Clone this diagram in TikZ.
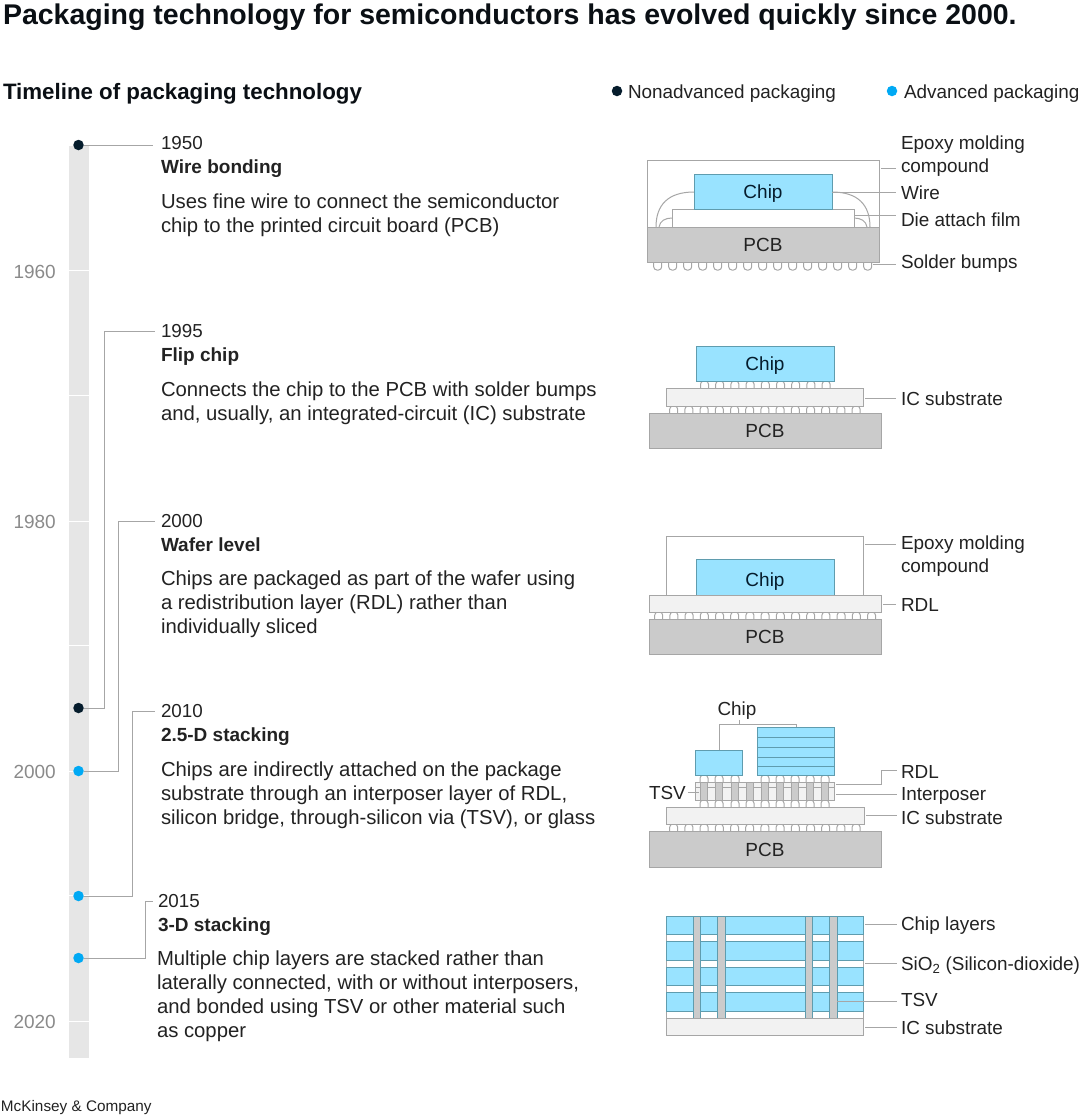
\documentclass[tikz,border=0pt]{standalone}
\usepackage{fontspec}
\setmainfont{Liberation Sans}
\definecolor{navy}{HTML}{051C2C}
\definecolor{head}{HTML}{0A0F14}
\definecolor{sky}{HTML}{00A9F4}
\definecolor{chipfill}{HTML}{99E3FF}
\definecolor{chipedge}{HTML}{5F9CAE}
\definecolor{pcbfill}{HTML}{CBCBCB}
\definecolor{subfill}{HTML}{F2F2F2}
\definecolor{edge}{HTML}{A6A6A6}
\definecolor{bar}{HTML}{E6E6E6}
\definecolor{txt}{HTML}{222222}
\definecolor{yeartxt}{HTML}{8A8A8A}
\tikzset{
  x=1pt,y=-1pt,
  txtbase/.style={inner sep=0pt,outer sep=0pt,text=txt},
  lab/.style={txtbase,anchor=west,yshift=-0.5pt,font=\fontsize{18.9}{23}\selectfont,align=left},
  year/.style={txtbase,anchor=west,yshift=-0.5pt,font=\fontsize{18.8}{24}\selectfont},
  ttl/.style={txtbase,anchor=west,yshift=-2.5pt,font=\fontsize{19}{24}\selectfont\bfseries},
  desc/.style={txtbase,anchor=north west,font=\fontsize{20.3}{24}\selectfont,align=left},
  tickyear/.style={inner sep=0pt,anchor=east,yshift=-1pt,text=yeartxt,font=\fontsize{19}{24}\selectfont},
  conn/.style={draw=edge,line width=1pt},
  leader/.style={draw=edge,line width=1pt},
  dotnode/.style={circle,inner sep=0pt,minimum size=10.5pt,fill=#1},
  pk/.style={inner sep=0pt,outer sep=0pt,line width=1pt,font=\fontsize{19}{24}\selectfont,text height=14pt,text depth=0pt},
  chip/.style={pk,draw=chipedge,fill=chipfill,text=navy},
  pcb/.style={pk,draw=edge,fill=pcbfill,text=txt},
  sub/.style={pk,draw=edge,fill=subfill},
  mold/.style={pk,draw=edge,fill=white},
  tsvcol/.style={pk,draw=chipedge,fill=pcbfill},
  bumpline/.style={draw=edge,line width=1pt,fill=white},
  wireline/.style={draw=edge,line width=1pt},
}
% \bx{name}{style}{x1}{y1}{x2}{y2}{text}
\newcommand{\bx}[7]{\pgfmathsetmacro{\bw}{#5-#3}\pgfmathsetmacro{\bh}{#6-#4}%
  \node[#2,minimum width=\bw pt,minimum height=\bh pt] (#1) at ({(#3+#5)/2},{(#4+#6)/2}) {#7};}
\newcommand{\lft}[1]{#1\hspace{4pt}}
% bump with flat end at y=#2, rounded end at y=#3
\newcommand{\bumpy}[3]{\draw[bumpline,rounded corners=3.2pt] ({#1-4},#2) -- ({#1-4},#3) -- ({#1+4},#3) -- ({#1+4},#2);}
\begin{document}
\begin{tikzpicture}
\useasboundingbox (0,0) rectangle (1080,1117);
% headings
\node[txtbase,anchor=west,yshift=-2pt,font=\fontsize{28.5}{32}\selectfont\bfseries,text=head] (title) at (3,15) {Packaging technology for semiconductors has evolved quickly since 2000.};
\node[txtbase,anchor=west,yshift=-2.5pt,font=\fontsize{22.3}{26}\selectfont\bfseries,text=head] (sub) at (3,91) {Timeline of packaging technology};
\node[dotnode=navy] (legA) at (617,91) {};
\node[lab] (legAt) at (628,93) {Nonadvanced packaging};
\node[dotnode=sky] (legB) at (892,91) {};
\node[lab] (legBt) at (904,93) {Advanced packaging};
% timeline
\node[inner sep=0pt,fill=bar,minimum width=20pt,minimum height=912pt] (tbar) at (79,602) {};
\foreach \yy in {270,395,521,645,771,895,1021}{\draw[white,line width=1pt] (69,\yy) -- (89,\yy);}
\node[tickyear] (t60) at (56,271) {1960};
\node[tickyear] (t80) at (56,521) {1980};
\node[tickyear] (t00) at (56,771) {2000};
\node[tickyear] (t20) at (56,1021) {2020};
% year / title / description
\node[year] (y50) at (161,143) {1950};
\node[ttl] (n50) at (161,166) {Wire bonding};
\node[desc] (d50) at (161,194) {Uses fine wire to connect the semiconductor\\chip to the printed circuit board (PCB)};
\node[year] (y95) at (161,331) {1995};
\node[ttl] (n95) at (161,354) {Flip chip};
\node[desc] (d95) at (161,382) {Connects the chip to the PCB with solder bumps\\and, usually, an integrated-circuit (IC) substrate};
\node[year] (y00) at (161,521) {2000};
\node[ttl] (n00) at (161,542) {Wafer level};
\node[desc] (d00) at (161,571) {Chips are packaged as part of the wafer using\\a redistribution layer (RDL) rather than\\individually sliced};
\node[year] (y10) at (161,711) {2010};
\node[ttl] (n10) at (161,734) {2.5-D stacking};
\node[desc] (d10) at (161,762) {Chips are indirectly attached on the package\\substrate through an interposer layer of RDL,\\silicon bridge, through-silicon via (TSV), or glass};
\node[year] (y15) at (158,901) {2015};
\node[ttl] (n15) at (158,924) {3-D stacking};
\node[desc] (d15) at (157,951) {Multiple chip layers are stacked rather than\\laterally connected, with or without interposers,\\and bonded using TSV or other material such\\as copper};
% dots
\node[dotnode=navy] (p50) at (78.5,145) {};
\node[dotnode=navy] (p95) at (78.5,708) {};
\node[dotnode=sky] (p00) at (78.5,771) {};
\node[dotnode=sky] (p10) at (78.5,896) {};
\node[dotnode=sky] (p15) at (78.5,958) {};
% connectors
\coordinate (e50) at (153,145);
\coordinate (e95) at (104.5,331);
\coordinate (e00) at (118,521);
\coordinate (e10) at (132,711);
\coordinate (e15) at (145.5,901);
\draw[conn] (p50) -- (e50);
\draw[conn] (p95) -| (e95) -- ([xshift=-6pt]y95.west |- e95);
\draw[conn] (p00) -| (e00) -- ([xshift=-6pt]y00.west |- e00);
\draw[conn] (p10) -| (e10) -- ([xshift=-6pt]y10.west |- e10);
\draw[conn] (p15) -| (e15) -- ([xshift=-5pt]y15.west |- e15);

% ---- wire bonding
\bx{wbMold}{mold}{647}{160}{879}{262}{}
\draw[wireline] (694,192) .. controls (668,192) and (656,205) .. (656,227);
\draw[wireline] (672,218) .. controls (665,218) and (660,221) .. (659,227);
\draw[wireline] (832,192) .. controls (858,192) and (870,205) .. (870,227);
\draw[wireline] (854,218) .. controls (861,218) and (866,221) .. (867,227);
\foreach \i in {0,...,14}{\bumpy{657.7+15*\i}{262}{270}}
\bx{wbDie}{mold}{672}{209}{854}{227}{}
\bx{wbChip}{chip}{694}{174}{832}{209}{Chip}
\bx{wbPcb}{pcb}{647}{227}{879}{262}{PCB}
\node[lab] (wbL1) at (901,156) {Epoxy molding\\compound};
\node[lab] (wbL2) at (901,192) {Wire};
\node[lab] (wbL3) at (901,219) {Die attach film};
\node[lab] (wbL4) at (901,263) {Solder bumps};
\coordinate (wbE1) at (896,168);
\coordinate (wbE2) at (896,192);
\coordinate (wbE3) at (896,215);
\coordinate (wbE4) at (896,264);
\coordinate (wbS4) at (873,264);
\draw[leader] ([xshift=2pt]wbMold.east |- wbE1) -- (wbE1);
\draw[leader] (wbChip.east |- wbE2) -- (wbE2);
\draw[leader] (wbDie.east |- wbE3) -- (wbE3);
\draw[leader] (wbS4) -- (wbE4);

% ---- flip chip
\foreach \i in {0,...,8}{\bumpy{704.5+15.2*\i}{389}{381}}
\foreach \i in {0,...,12}{\bumpy{673.7+15.2*\i}{413}{406}}
\bx{fcChip}{chip}{696}{346}{834}{381}{\lft{Chip}}
\bx{fcSub}{sub}{666}{388.5}{863}{406}{}
\bx{fcPcb}{pcb}{649}{413}{881}{448}{\lft{PCB}}
\node[lab] (fcL) at (901,398) {IC substrate};
\draw[leader] ([xshift=2pt]fcSub.east |- fcL.west) -- ([xshift=-5pt]fcL.west);

% ---- wafer level
\bx{wlMold}{mold}{666}{536}{863}{595}{}
\foreach \i in {0,...,14}{\bumpy{658.7+15.2*\i}{620}{612}}
\bx{wlChip}{chip,text height=18pt}{696}{559}{834}{595}{\lft{Chip}}
\bx{wlRdl}{sub}{649}{595}{881}{612}{}
\bx{wlPcb}{pcb}{649}{619.5}{881}{654}{\lft{PCB}}
\node[lab] (wlL1) at (901,556) {Epoxy molding\\compound};
\node[lab] (wlL2) at (901,604) {RDL};
\coordinate (wlE1) at (896,544);
\draw[leader] ([xshift=2pt]wlMold.east |- wlE1) -- (wlE1);
\draw[leader] ([xshift=2pt]wlRdl.east |- wlL2.west) -- ([xshift=-5pt]wlL2.west);

% ---- 2.5-D
\foreach \x in {704,719,735,765,780,795,810,825}{\bumpy{\x}{782}{775}}
\foreach \x in {704,719,735,750,765,780,795,810,825}{\bumpy{\x}{807}{800}}
\foreach \i in {0,...,12}{\bumpy{673.7+15.2*\i}{831}{824}}
\bx{dsChipA}{chip}{695}{750}{742}{775}{}
\bx{dsChipB}{chip}{757}{727}{834}{775}{}
\foreach \yy in {737,747,757,766}{\draw[draw=chipedge,line width=1pt] (dsChipB.west |- 0,\yy) -- (dsChipB.east |- 0,\yy);}
\bx{dsInt}{sub}{695}{782}{834}{800}{}
\draw[draw=edge,line width=1pt] (dsInt.west |- 0,787) -- (dsInt.east |- 0,787);
\foreach \x in {704,719,735,750,765,780,795,810,825}{\draw[fill=pcbfill,draw=edge,line width=0.8pt] ({\x-3.7},782) rectangle ({\x+3.7},800);}
\bx{dsSub}{sub}{666}{807}{864}{824}{}
\bx{dsPcb}{pcb}{649}{831}{881}{867}{\lft{PCB}}
\node[lab,anchor=center] (dsChipL) at (737,710) {Chip};
\coordinate (dsTop) at (739,724);
\coordinate (dsTick) at (739,720);
\coordinate (dsA) at (719,724);
\coordinate (dsB) at (796,724);
\draw[leader] (719,750) -- (dsA) -- (dsB) -- (796,727);
\draw[leader] (dsTop) -- (dsTick);
\node[lab] (dsTsv) at (649,792) {TSV};
\coordinate (dsTsvE) at (699,792);
\draw[leader] ([xshift=2pt]dsTsv.east |- dsTsvE) -- (dsTsvE);
\node[lab] (dsL1) at (901,771) {RDL};
\node[lab] (dsL2) at (901,795) {Interposer};
\node[lab] (dsL3) at (901,817) {IC substrate};
\coordinate (dsE1) at (881,784);
\coordinate (dsE2) at (897,794);
\coordinate (dsE1b) at (897,770);
\draw[leader] ([xshift=2pt]dsInt.east |- dsE1) -- (dsE1) |- (dsE1b);
\draw[leader] ([xshift=2pt]dsInt.east |- dsE2) -- (dsE2);
\coordinate (dsE3) at (897,815);
\draw[leader] ([xshift=2pt]dsSub.east |- dsE3) -- (dsE3);

% ---- 3-D
\bx{tdA}{mold}{666}{916}{863}{1018}{}
\bx{tdC1}{chip}{666}{916}{863}{934}{}
\bx{tdC2}{chip}{666}{941}{863}{960}{}
\bx{tdC3}{chip}{666}{967}{863}{985}{}
\bx{tdC4}{chip}{666}{992}{863}{1011}{}
\draw[tsvcol] (693.3,916) rectangle (700.7,1018);
\draw[tsvcol] (717.7,916) rectangle (725.3,1018);
\draw[tsvcol] (805,916) rectangle (812.3,1018);
\draw[tsvcol] (829.7,916) rectangle (837,1018);
\bx{tdSub}{sub}{666}{1018}{863}{1035}{}
\node[lab] (tdL1) at (901,925) {Chip layers};
\node[lab] (tdL2) at (901,965) {SiO\textsubscript{2} (Silicon-dioxide)};
\node[lab] (tdL3) at (901,999) {TSV};
\node[lab] (tdL4) at (901,1027) {IC substrate};
\coordinate (tdE1) at (897,924);
\coordinate (tdE2) at (897,963);
\coordinate (tdS3) at (837,1001);
\coordinate (tdE3) at (897,1001);
\coordinate (tdE4) at (897,1027);
\draw[leader] ([xshift=2pt]tdC1.east |- tdE1) -- (tdE1);
\draw[leader] ([xshift=2pt]tdA.east |- tdE2) -- (tdE2);
\draw[leader] (tdS3) -- (tdE3);
\draw[leader] ([xshift=2pt]tdSub.east |- tdE4) -- (tdE4);
% footer
\node[txtbase,anchor=west,yshift=-2pt,font=\fontsize{15.3}{18}\selectfont] (foot) at (1,1106) {McKinsey \& Company};
\end{tikzpicture}
\end{document}
